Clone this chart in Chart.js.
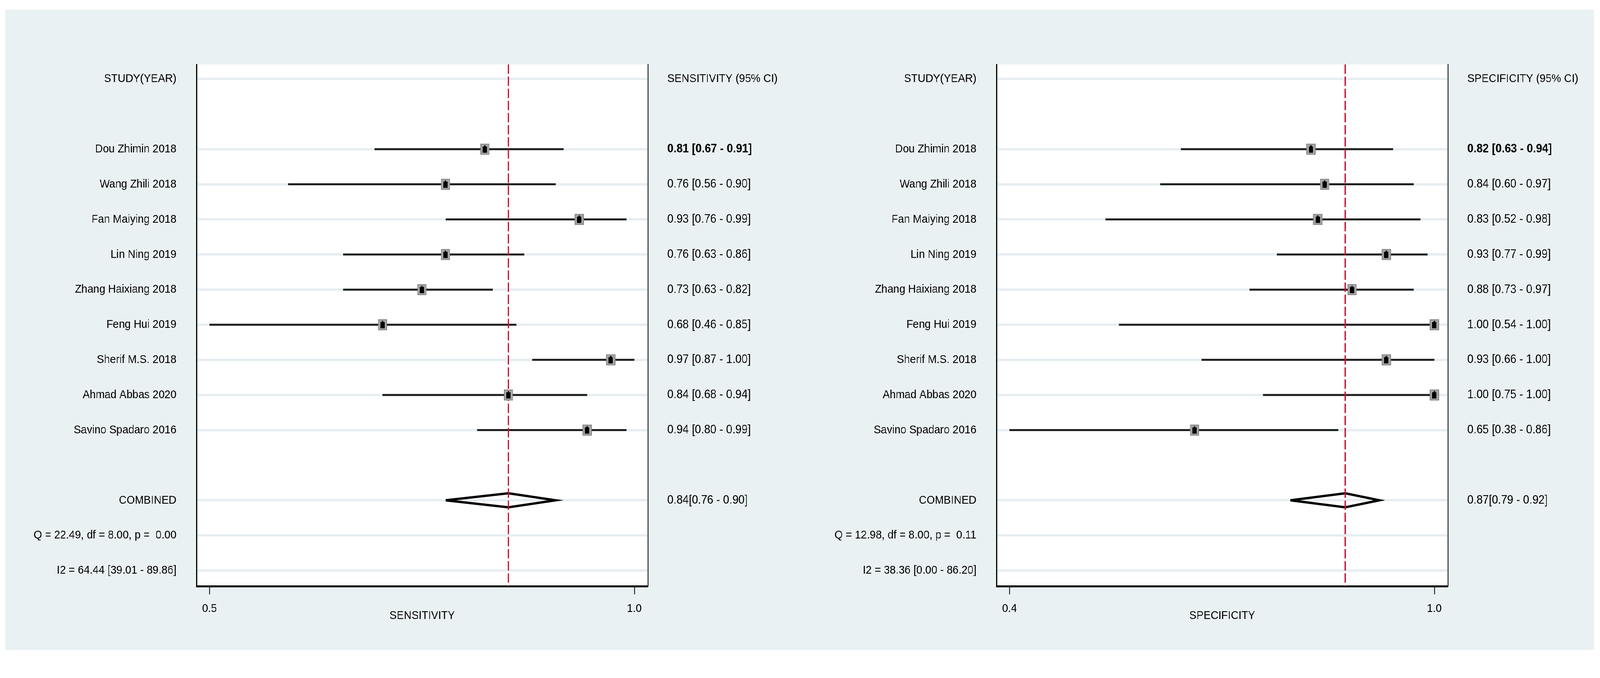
<!DOCTYPE html>
<html>
<head>
<meta charset="utf-8">
<title>Forest plot - sensitivity and specificity</title>
<script src="https://cdn.jsdelivr.net/npm/chart.js@4.4.1/dist/chart.umd.min.js"></script>
<style>
  html, body { margin: 0; padding: 0; background: #fff; overflow: hidden; }
  #frame { position: relative; overflow: hidden; }
  #page { position: absolute; left: 0; top: 0; width: 4500px; height: 1735px; transform-origin: 0 0; }
  #panelBg { position: absolute; left: 14px; top: 25px; width: 4469px; height: 1638px; background: #eaf1f3; }
  canvas { position: absolute; top: 0; }
</style>
</head>
<body>
<div id="frame">
<div id="page">
  <div id="panelBg"></div>
  <canvas id="sensChart" width="2250" height="1735" style="left:0"></canvas>
  <canvas id="specChart" width="2250" height="1735" style="left:2250px"></canvas>
</div>
</div>
<script>
// ===================================
// Data
// ===================================
const studies = [
    'Dou Zhimin 2018', 'Wang Zhili 2018', 'Fan Maiying 2018', 'Lin Ning 2019',
    'Zhang Haixiang 2018', 'Feng Hui 2019', 'Sherif M.S. 2018', 'Ahmad Abbas 2020',
    'Savino Spadaro 2016'
];

const sensEst = [0.81, 0.76, 0.93, 0.76, 0.73, 0.68, 0.97, 0.84, 0.94];
const sensLo  = [0.67, 0.56, 0.76, 0.63, 0.63, 0.46, 0.87, 0.68, 0.80];
const sensHi  = [0.91, 0.90, 0.99, 0.86, 0.82, 0.85, 1.00, 0.94, 0.99];
const sensPooled = [0.84, 0.76, 0.90];          // estimate, lower, upper
const sensHetero = [22.49, 8.00, 0.00];         // Q, df, p
const sensI2 = [64.44, 39.01, 89.86];           // I2, lower, upper

const specEst = [0.82, 0.84, 0.83, 0.93, 0.88, 1.00, 0.93, 1.00, 0.65];
const specLo  = [0.63, 0.60, 0.52, 0.77, 0.73, 0.54, 0.66, 0.75, 0.38];
const specHi  = [0.94, 0.97, 0.98, 0.99, 0.97, 1.00, 1.00, 1.00, 0.86];
const specPooled = [0.87, 0.79, 0.92];
const specHetero = [12.98, 8.00, 0.11];
const specI2 = [38.36, 0.00, 86.20];

// ===================================
// Fit the 4500x1735 layout into the window (it may be narrower than asked)
// ===================================
const page = document.getElementById('page');
const frame = document.getElementById('frame');
const sx = Math.min(1, window.innerWidth / 4500);
const sy = Math.min(1, window.innerHeight / 1735);
page.style.transform = 'scale(' + sx + ',' + sy + ')';
frame.style.width = Math.floor(4500 * sx) + 'px';
frame.style.height = Math.floor(1735 * sy) + 'px';

// ===================================
// Layout helpers
// ===================================
const FONT = "'Liberation Sans', Arial, Helvetica, sans-serif";
Chart.defaults.font.family = FONT;
Chart.defaults.color = '#000';

const Y_MIN = -0.412, Y_MAX = 14.445;
const studyRows = studies.map((s, i) => i + 2);
const headerRow = 0;
const combinedRow = studies.length + 3;
const qRow = combinedRow + 1;
const i2Row = combinedRow + 2;
const labelRows = [headerRow, ...studyRows, combinedRow, qRow, i2Row];

function fmt(v) { return v.toFixed(2); }

function makeMarker() {
    const c = document.createElement('canvas');
    c.width = 28; c.height = 30;
    const g = c.getContext('2d');
    g.fillStyle = '#a6a6a6';
    g.strokeStyle = '#808080';
    g.lineWidth = 2;
    g.fillRect(2, 2, 24, 26);
    g.strokeRect(2, 2, 24, 26);
    g.fillStyle = '#000';
    g.fillRect(8, 8, 12, 16);
    g.fillRect(12, 5, 4, 4);
    return c;
}
const marker = makeMarker();

const plotBg = {
    id: 'plotBg',
    beforeDraw(chart) {
        const { ctx, chartArea: a } = chart;
        ctx.save();
        ctx.fillStyle = '#fff';
        ctx.fillRect(a.left, a.top, a.right - a.left, a.bottom - a.top);
        ctx.restore();
    }
};

function buildForest(canvasId, est, lo, hi, pooled, hetero, i2, header, axisTitle) {
    const tickLo = Math.min(...lo);
    const span = 1 - tickLo;
    const xMin = tickLo - 0.0302 * span;
    const xMax = 1 + 0.0318 * span;

    const leftLabels = {};
    leftLabels[headerRow] = 'STUDY(YEAR)';
    studies.forEach((s, i) => { leftLabels[studyRows[i]] = s; });
    leftLabels[combinedRow] = 'COMBINED';
    leftLabels[qRow] = 'Q = ' + fmt(hetero[0]) + ', df = ' + fmt(hetero[1]) + ', p =  ' + fmt(hetero[2]);
    leftLabels[i2Row] = 'I2 = ' + fmt(i2[0]) + ' [' + fmt(i2[1]) + ' - ' + fmt(i2[2]) + ']';

    const rightLabels = {};
    rightLabels[headerRow] = header;
    studies.forEach((s, i) => {
        rightLabels[studyRows[i]] = fmt(est[i]) + ' [' + fmt(lo[i]) + ' - ' + fmt(hi[i]) + ']';
    });
    rightLabels[combinedRow] = fmt(pooled[0]) + '[' + fmt(pooled[1]) + ' - ' + fmt(pooled[2]) + ']';

    const datasets = [];
    // markers (first = drawn on top)
    datasets.push({
        data: est.map((v, i) => ({ x: v, y: studyRows[i] })),
        showLine: false,
        pointStyle: marker,
        pointRadius: 10
    });
    // pooled estimate reference line
    datasets.push({
        data: [{ x: pooled[0], y: Y_MIN }, { x: pooled[0], y: Y_MAX }],
        showLine: true,
        borderColor: '#c8102e',
        borderWidth: 4,
        borderDash: [24, 7],
        pointRadius: 0
    });
    // confidence intervals
    est.forEach((v, i) => {
        datasets.push({
            data: [{ x: lo[i], y: studyRows[i] }, { x: hi[i], y: studyRows[i] }],
            showLine: true,
            borderColor: '#1e1e1e',
            borderWidth: 5,
            borderCapStyle: 'butt',
            pointRadius: 0
        });
    });
    // combined diamond
    datasets.push({
        data: [
            { x: pooled[1], y: combinedRow },
            { x: pooled[0], y: combinedRow - 0.2 },
            { x: pooled[2], y: combinedRow },
            { x: pooled[0], y: combinedRow + 0.2 },
            { x: pooled[1], y: combinedRow }
        ],
        showLine: true,
        borderColor: '#000',
        borderWidth: 6,
        borderJoinStyle: 'miter',
        pointRadius: 0
    });

    return new Chart(document.getElementById(canvasId), {
        type: 'scatter',
        data: { datasets: datasets },
        options: {
            responsive: false,
            devicePixelRatio: 1,
            animation: false,
            events: [],
            layout: { padding: { top: 165, left: 0, right: 0, bottom: 0 } },
            plugins: { legend: { display: false }, tooltip: { enabled: false } },
            elements: { line: { tension: 0 } },
            scales: {
                x: {
                    type: 'linear',
                    min: xMin,
                    max: xMax,
                    afterBuildTicks: s => { s.ticks = [tickLo, 1].map(v => ({ value: v })); },
                    afterFit: s => { s.height = 235; },
                    grid: { drawOnChartArea: false, drawTicks: true, tickLength: 21, tickWidth: 2, tickColor: '#000' },
                    border: { display: true, color: '#000', width: 5 },
                    ticks: {
                        padding: 19,
                        autoSkip: false,
                        maxRotation: 0,
                        font: { size: 30 },
                        callback: v => v.toFixed(1)
                    },
                    title: {
                        display: true,
                        text: axisTitle,
                        font: { size: 30 },
                        padding: { top: 0, bottom: 141 }
                    }
                },
                y: {
                    type: 'linear',
                    position: 'left',
                    reverse: true,
                    min: Y_MIN,
                    max: Y_MAX,
                    afterBuildTicks: s => { s.ticks = labelRows.map(v => ({ value: v })); },
                    afterFit: s => { s.width = 553; },
                    grid: { color: '#e6eef1', lineWidth: 6, drawTicks: false },
                    border: { display: true, color: '#000', width: 3 },
                    ticks: {
                        padding: 57,
                        autoSkip: false,
                        font: { size: 30 },
                        callback: v => leftLabels[v] || ''
                    }
                },
                y2: {
                    type: 'linear',
                    position: 'right',
                    reverse: true,
                    min: Y_MIN,
                    max: Y_MAX,
                    afterBuildTicks: s => { s.ticks = labelRows.map(v => ({ value: v })); },
                    afterFit: s => { s.width = 428; },
                    grid: { drawOnChartArea: false, drawTicks: false },
                    border: { display: true, color: '#000', width: 3 },
                    ticks: {
                        padding: 55,
                        autoSkip: false,
                        font: ctx => ({
                            size: ctx.tick && ctx.tick.value === headerRow ? 30 : 31,
                            weight: ctx.tick && ctx.tick.value === studyRows[0] ? 'bold' : 'normal'
                        }),
                        callback: v => rightLabels[v] || ''
                    }
                }
            }
        },
        plugins: [plotBg]
    });
}

buildForest('sensChart', sensEst, sensLo, sensHi, sensPooled, sensHetero, sensI2,
    'SENSITIVITY (95% CI)', 'SENSITIVITY');
buildForest('specChart', specEst, specLo, specHi, specPooled, specHetero, specI2,
    'SPECIFICITY (95% CI)', 'SPECIFICITY');
</script>
</body>
</html>
